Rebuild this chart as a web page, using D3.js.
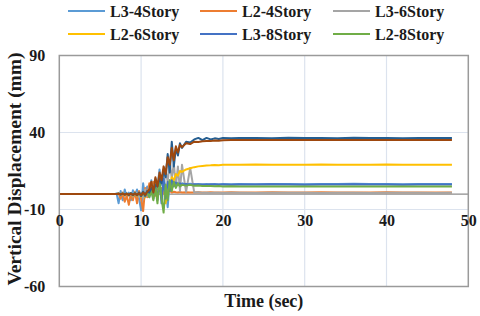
<!DOCTYPE html>
<html>
<head>
<meta charset="utf-8">
<script src="https://cdn.jsdelivr.net/npm/d3@7"></script>
<style>
  body { margin: 0; background: #fff; }
  text { font-family: "Liberation Serif", "Times New Roman", serif; font-weight: bold; fill: #1a1a1a; }
</style>
</head>
<body>
<div id="chart"></div>
<script>
// time samples (sec)
const time = [0, 6.75, 7, 7.25, 7.5, 7.75, 8, 8.25, 8.5, 8.75, 9, 9.25, 9.5, 9.75,
  10, 10.25, 10.5, 10.75, 11, 11.25, 11.5, 11.75, 12, 12.25, 12.5, 12.75, 13, 13.25,
  13.5, 13.75, 14, 14.25, 14.5, 14.75, 15, 15.5, 16, 16.5, 17, 17.5, 18, 18.5, 19,
  19.5, 20, 21, 22, 24, 26, 28, 30, 32, 34, 36, 38, 40, 42, 44, 46, 48];

// vertical displacement (mm) for each series
const l3_4 = [0, 0, 0.5, -6, 2, -4, 3, -2, 1, -4, 2.5, -1, 3, -3, -10.5, 7, -2, 5, 1, 9,
  2, 10, 4, 16, 6, 12, 3, -8.5, 9, 4, 8, 6, 7.5, 6, 7, 6.3, 6.8, 6.2, 6.6, 6.3, 6.5,
  6.2, 6.6, 6.3, 6.5, 6.4, 6.6, 6.4, 6.5, 6.6, 6.4, 6.6, 6.5, 6.7, 6.5, 6.6, 6.4, 6.6, 6.5, 6.6];
const l2_4 = [0, 0, 0, 0.5, -3, 1, -5, -1, -7, 0, -4, 1.5, -6, 2, -3, -11, 4, -2, 7, 0,
  8, -1, 5, 2, 4, 0.5, 3, 1, 2, 1, 1.5, 1.2, 1.0, 1.3, 1.1, 1.2, 1.0, 1.1, 1.2, 1.0,
  1.1, 1.2, 1.0, 1.1, 1.0, 1.2, 1.1, 1.0, 1.2, 1.1, 1.0, 1.2, 1.1, 1.0, 1.1, 1.2, 1.0, 1.1, 1.0, 1.1];
const l3_6 = [0, 0, 0, 0.3, -0.5, 0.5, -0.3, 0.4, -1, 0.5, -1.5, 1, 0.5, -2, 1, -2.5, 3,
  -1, 4, 1, 6, 2, 8, 4, 12, 6, 15, 8, 21, 10, 20, 5, 18, 2, 19, 1.5, 17, 1, 1.2, 0.8,
  0.9, 0.7, 0.8, 0.9, 0.7, 0.8, 0.9, 0.7, 0.8, 0.8, 0.9, 0.7, 0.8, 0.9, 0.7, 0.8, 0.9, 0.8, 0.7, 0.8];
const l2_6 = [0, 0, 0, 0.3, -0.3, 0.5, -0.5, 0.3, -0.8, 0.6, -1, 0.8, -1.2, 1, -1.5, 1.5,
  -2, 2, -1, 2.5, 0, 3, -2, 4, 1, 6, -6, 8, 4, 11, 9, 13, 12, 15, 14.5, 16, 16.8, 17.5,
  18, 18.3, 18.6, 18.7, 18.9, 18.8, 19, 19.1, 19, 19.2, 19.1, 19, 19.1, 19.2, 19, 19.1,
  19, 19.2, 19.1, 19, 19.1, 19.1];
const l3_8 = [0, 0, 0, 0.2, -0.3, 0.3, -0.2, 0.4, -0.5, 0.5, -0.6, 0.4, -0.8, 1, -1, 1.5,
  -1.5, 2, -2, 4, -3, 6, -4, 9, -6, 10, -3, 8, 2, 9, 5, 7.5, 6, 7, 6.2, 6.5, 6.1, 6.4,
  6.2, 6.3, 6.1, 6.4, 6.2, 6.3, 6.2, 6.1, 6.3, 6.2, 6.4, 6.2, 6.1, 6.3, 6.2, 6.4, 6.2,
  6.3, 6.1, 6.2, 6.3, 6.2];
const l2_8 = [0, 0, 0, 0.2, -0.2, 0.3, -0.3, 0.2, -0.4, 0.4, -0.5, 0.5, -0.6, 0.6, -0.8,
  1, -1, 1.5, -2, 2, -4, 5, -6, 10, -3, -12, 6, -4, 9, 2, 8, 4, 7, 5, 6, 5.5, 6, 5.4,
  5.6, 5.3, 5.2, 5.3, 5.1, 5.2, 5.0, 5.1, 5.0, 5.0, 4.9, 5.0, 4.9, 5.0, 4.9, 4.9, 5.0,
  4.9, 4.9, 5.0, 4.9, 4.9];
// two more traces drawn in the plot, not named in the legend
const l3_10 = [0, 0, 0, 0.3, -0.3, 0.4, -0.4, 0.3, -0.6, 0.5, -0.7, 0.6, -0.8, 1, -1.2,
  1.5, -1, 2, 1, 4, 2, 6, 5, 10, 7, 16, 11, 26, 14, 34, 18, 30, 25, 33, 30, 34, 33.5,
  35.5, 36.5, 35, 36.5, 35.5, 36.2, 35.8, 36.4, 36.2, 36.5, 36.4, 36.3, 36.6, 36.4,
  36.5, 36.3, 36.6, 36.4, 36.5, 36.3, 36.5, 36.4, 36.5];
const l2_10 = [0, 0, 0, 0.2, -0.2, 0.3, -0.3, 0.2, -0.4, 0.3, -0.5, 0.4, -0.5, 0.6, -0.8,
  1, -0.5, 1.5, 3, 8, 1, 11, 5, 14, 9, 18, 13, 24, 19, 30, 22, 31, 27, 32, 30.5, 33,
  32.5, 34, 33.8, 34.3, 34.5, 34.4, 34.8, 34.7, 35, 35.1, 35.2, 35.1, 35.2, 35.1, 35.2,
  35.2, 35.1, 35.2, 35.1, 35.2, 35.2, 35.1, 35.2, 35.1];

const seriesNames = ["L3-4Story", "L2-4Story", "L3-6Story", "L2-6Story", "L3-8Story", "L2-8Story", "", ""];
const seriesValues = [l3_4, l2_4, l3_6, l2_6, l3_8, l2_8, l3_10, l2_10];
const colors = ["#5B9BD5", "#ED7D31", "#A5A5A5", "#FFC000", "#4472C4", "#70AD47", "#255E91", "#9E480E"];

const xTicks = [0, 10, 20, 30, 40, 50];
const yTicks = [-60, -10, 40, 90];

const svgWidth = 480;
const svgHeight = 316;
const margin = { top: 55.5, right: 11.7, bottom: 29.5, left: 59.3 };
const width = svgWidth - margin.left - margin.right;
const height = svgHeight - margin.top - margin.bottom;

const svg = d3.select("#chart")
  .append("svg")
  .attr("width", svgWidth)
  .attr("height", svgHeight);

const chartGroup = svg.append("g")
  .attr("transform", `translate(${margin.left}, ${margin.top})`);

const xScale = d3.scaleLinear().domain([0, 50]).range([0, width]);
const yScale = d3.scaleLinear().domain([-60, 90]).range([height, 0]);

// gridlines
chartGroup.append("g")
  .selectAll("line.vg")
  .data(xTicks.slice(1, -1))
  .enter()
  .append("line")
  .attr("x1", d => xScale(d)).attr("x2", d => xScale(d))
  .attr("y1", 0).attr("y2", height)
  .attr("stroke", "#DCE3EE")
  .attr("stroke-width", 1.2);

chartGroup.append("g")
  .selectAll("line.hg")
  .data(yTicks.slice(1, -1))
  .enter()
  .append("line")
  .attr("x1", 0).attr("x2", width)
  .attr("y1", d => yScale(d)).attr("y2", d => yScale(d))
  .attr("stroke", "#DCE3EE")
  .attr("stroke-width", 1.2);

// x axis line through zero
chartGroup.append("line")
  .attr("x1", 0).attr("x2", width)
  .attr("y1", yScale(0)).attr("y2", yScale(0))
  .attr("stroke", "#8C8C8C")
  .attr("stroke-width", 1.3);

// series lines
const line = d3.line()
  .x((d, i) => xScale(time[i]))
  .y(d => yScale(d));

chartGroup.append("g")
  .selectAll("path")
  .data(seriesValues)
  .enter()
  .append("path")
  .attr("d", d => line(d))
  .attr("fill", "none")
  .attr("stroke", (d, i) => colors[i])
  .attr("stroke-width", 2)
  .attr("stroke-linejoin", "round");

// plot frame
chartGroup.append("rect")
  .attr("width", width)
  .attr("height", height)
  .attr("fill", "none")
  .attr("stroke", "#9A9A9A")
  .attr("stroke-width", 1.5);

// axes, labels only (plain hyphen for negatives)
const bottomAxis = d3.axisBottom(xScale).tickValues(xTicks).tickSize(0).tickPadding(0)
  .tickFormat(d => String(d));
const leftAxis = d3.axisLeft(yScale).tickValues(yTicks).tickSize(0).tickPadding(14)
  .tickFormat(d => String(d));

const xAxis = chartGroup.append("g")
  .attr("transform", `translate(0, ${yScale(-10) + 2})`)
  .call(bottomAxis);
xAxis.select(".domain").remove();
xAxis.selectAll("text")
  .attr("dy", "0.9em")
  .style("font-size", "16px");

const yAxis = chartGroup.append("g").call(leftAxis);
yAxis.select(".domain").remove();
yAxis.selectAll("text").style("font-size", "16px");

// axis titles
svg.append("text")
  .attr("x", margin.left + width / 2)
  .attr("y", 307)
  .attr("text-anchor", "middle")
  .style("font-size", "18px")
  .text("Time (sec)");

svg.append("text")
  .attr("transform", `translate(21, ${margin.top + height / 2 - 2}) rotate(-90)`)
  .attr("text-anchor", "middle")
  .style("font-size", "19.5px")
  .text("Vertical Displacement (mm)");

// legend, 3 columns x 2 rows
const legendX = [68, 200, 333];
const legendY = [11, 34];
const legend = svg.append("g")
  .selectAll("g")
  .data(seriesNames.slice(0, 6))
  .enter()
  .append("g")
  .attr("transform", (d, i) => `translate(${legendX[i % 3]}, ${legendY[Math.floor(i / 3)]})`);

legend.append("line")
  .attr("x1", 0).attr("x2", 37)
  .attr("stroke", (d, i) => colors[i])
  .attr("stroke-width", 2.2);

legend.append("text")
  .attr("x", 42)
  .attr("dy", "0.35em")
  .style("font-size", "16px")
  .text(d => d);
</script>
</body>
</html>
